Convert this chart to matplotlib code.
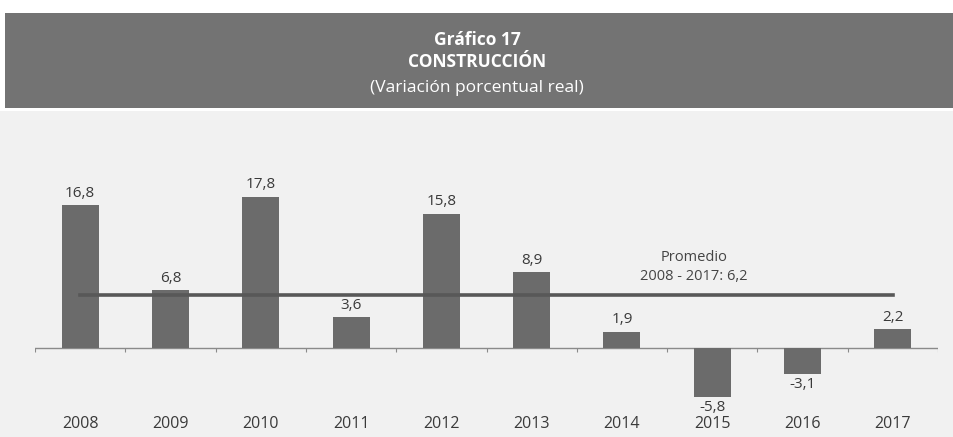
import matplotlib.pyplot as plt
from matplotlib.patches import Rectangle

years = ['2008', '2009', '2010', '2011', '2012', '2013', '2014', '2015', '2016', '2017']
values = [16.8, 6.8, 17.8, 3.6, 15.8, 8.9, 1.9, -5.8, -3.1, 2.2]
labels = ['16,8', '6,8', '17,8', '3,6', '15,8', '8,9', '1,9', '-5,8', '-3,1', '2,2']
promedio = 6.2

plt.rcParams['font.family'] = ['Open Sans', 'DejaVu Sans']

W, H = 954, 437
fig = plt.figure(figsize=(W / 100, H / 100), dpi=100)
fig.patch.set_facecolor('white')

# panel background and grey header band
fig.add_artist(Rectangle((0, 0), 1, (H - 111) / H, transform=fig.transFigure,
                         facecolor='#f1f1f1', edgecolor='none', zorder=0))
fig.add_artist(Rectangle((5 / W, (H - 108) / H), 1, 95 / H, transform=fig.transFigure,
                         facecolor='#737373', edgecolor='none', zorder=0))

fig.text(0.5, (H - 40) / H, 'Gráfico 17', ha='center', va='center',
         color='white', fontsize=12.5, fontweight='bold')
fig.text(0.5, (H - 62) / H, 'CONSTRUCCIÓN', ha='center', va='center',
         color='white', fontsize=12.5, fontweight='bold')
fig.text(0.5, (H - 88) / H, '(Variación porcentual real)', ha='center', va='center',
         color='white', fontsize=12.5)

ax = fig.add_axes([35 / W, 11 / H, 903 / W, 265.2 / H])
ax.set_facecolor('none')
x = list(range(len(years)))
ax.bar(x, values, width=0.41, color='#6b6b6b', zorder=2)
ax.set_xlim(-0.5, len(years) - 0.5)
ax.set_ylim(-9.2, 22)

# zero line with small ticks between categories
ax.axhline(0, color='#8a8a8a', lw=1, zorder=1)
ax.vlines([i - 0.5 for i in range(len(years) + 1)], -0.5, 0, color='#8a8a8a', lw=0.8)

# average line
ax.plot([x[0], x[-1]], [promedio, promedio], color='#585858', lw=2.6, zorder=3)
ax.text(6.8, promedio + 1.3, 'Promedio\n2008 - 2017: 6,2', ha='center', va='bottom',
        fontsize=10.5, color='#444444', linespacing=1.35)

for xi, v, lab in zip(x, values, labels):
    if v >= 0:
        ax.text(xi, v + 0.5, lab, ha='center', va='bottom', fontsize=11, color='#3a3a3a')
    else:
        ax.text(xi, v - 0.3, lab, ha='center', va='top', fontsize=11, color='#3a3a3a')

for xi, yr in zip(x, years):
    ax.text(xi, -8.95, yr, ha='center', va='center', fontsize=11.5, color='#3a3a3a')

ax.axis('off')
fig.savefig('out.png', dpi=100)
